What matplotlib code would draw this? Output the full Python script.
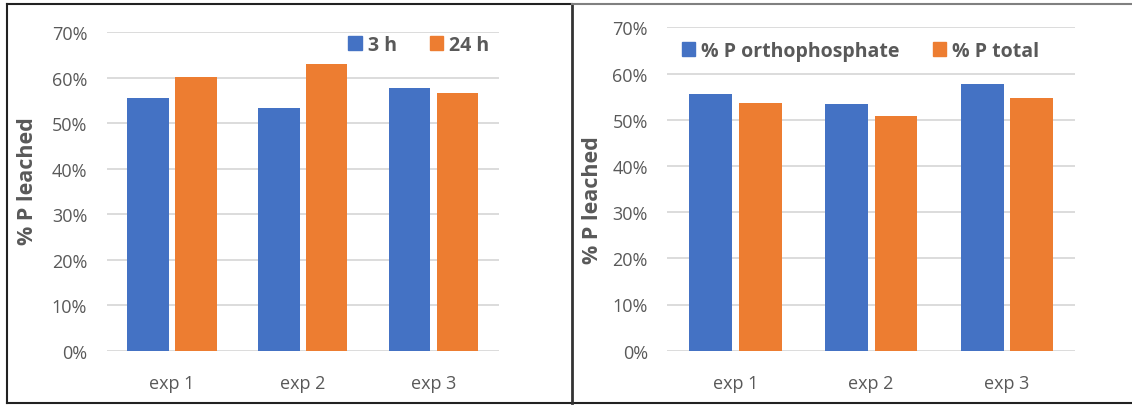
import matplotlib
matplotlib.use("Agg")
import matplotlib.pyplot as plt
from matplotlib.lines import Line2D
from matplotlib.patches import Patch
import numpy as np

# leaching data (fraction of P leached)
experiments = ["exp 1", "exp 2", "exp 3"]
leached_3h = [0.555, 0.533, 0.577]
leached_24h = [0.602, 0.630, 0.566]
leached_ortho = [0.555, 0.533, 0.577]
leached_total = [0.536, 0.507, 0.546]

BLUE = "#4472C4"
ORANGE = "#ED7D31"
GREY_TXT = "#595959"
GRID = "#D9D9D9"
FONT = "Open Sans"

W, H = 1132, 406
fig = plt.figure(figsize=(W / 100, H / 100), dpi=100)


def px(x0, y0, x1, y1):
    # pixel box -> figure fraction [left, bottom, width, height]
    return [x0 / W, 1 - y1 / H, (x1 - x0) / W, (y1 - y0) / H]


def bar_panel(ax, a, b, labels, legend_anchor, legend_loc, ylab_xy):
    x = np.arange(len(experiments))
    w = 0.316
    off = w / 2 + 0.025
    ax.bar(x - off, a, w, color=BLUE, label=labels[0], zorder=3)
    ax.bar(x + off, b, w, color=ORANGE, label=labels[1], zorder=3)
    ax.set_xlim(-0.5, 2.5)
    ax.set_ylim(0, 0.7)
    ax.set_yticks(np.arange(0, 0.71, 0.1))
    ax.set_yticklabels(["%d%%" % round(v * 100) for v in np.arange(0, 0.71, 0.1)])
    ax.set_xticks(x)
    ax.set_xticklabels(experiments)
    ax.grid(axis="y", color=GRID, lw=1.3, zorder=0)
    ax.set_axisbelow(True)
    for s in ax.spines.values():
        s.set_visible(False)
    ax.tick_params(axis="both", length=0, colors=GREY_TXT, labelsize=13)
    ax.tick_params(axis="y", pad=14)
    ax.tick_params(axis="x", pad=17)
    for t in ax.get_xticklabels() + ax.get_yticklabels():
        t.set_fontfamily(FONT)
    handles = [Patch(color=BLUE), Patch(color=ORANGE)]
    leg = ax.legend(handles, labels, loc=legend_loc, bbox_to_anchor=legend_anchor,
                    ncol=2, frameon=False, borderpad=0, borderaxespad=0,
                    handlelength=0.7, handleheight=0.7, handletextpad=0.3,
                    columnspacing=1.7,
                    prop={"family": FONT, "weight": "bold", "size": 14})
    for t in leg.get_texts():
        t.set_color(GREY_TXT)
    ax.text(ylab_xy[0], ylab_xy[1], "% P leached", rotation=90, ha="center", va="center",
            transform=ax.transAxes, fontsize=15.5, fontweight="bold",
            color=GREY_TXT, family=FONT)


ax1 = fig.add_axes(px(106.7, 33.3, 499, 351.7))
bar_panel(ax1, leached_3h, leached_24h, ["3 h", "24 h"],
          (0.975, 0.96), "center right", (-0.201, 0.535))

ax2 = fig.add_axes(px(667.3, 28.3, 1075, 351.7))
bar_panel(ax2, leached_ortho, leached_total, ["% P orthophosphate", "% P total"],
          (0.035, 0.927), "center left", (-0.183, 0.469))

# panel frames
def fline(xs, ys, color, lw=1.5):
    fig.add_artist(Line2D([v / W for v in xs], [1 - v / H for v in ys],
                          transform=fig.transFigure, color=color, lw=lw))

fline([6.5, 6.5], [4.5, 403.5], "#222222")
fline([6.5, 571.5], [4.5, 4.5], "#222222")
fline([6.5, 1132], [403.5, 403.5], "#222222")
fline([571.5, 571.5], [4.5, 403.5], "#333333", lw=2)
fline([571.5, 1132], [4.5, 4.5], "#808080")

fig.savefig("out.png", dpi=100)
